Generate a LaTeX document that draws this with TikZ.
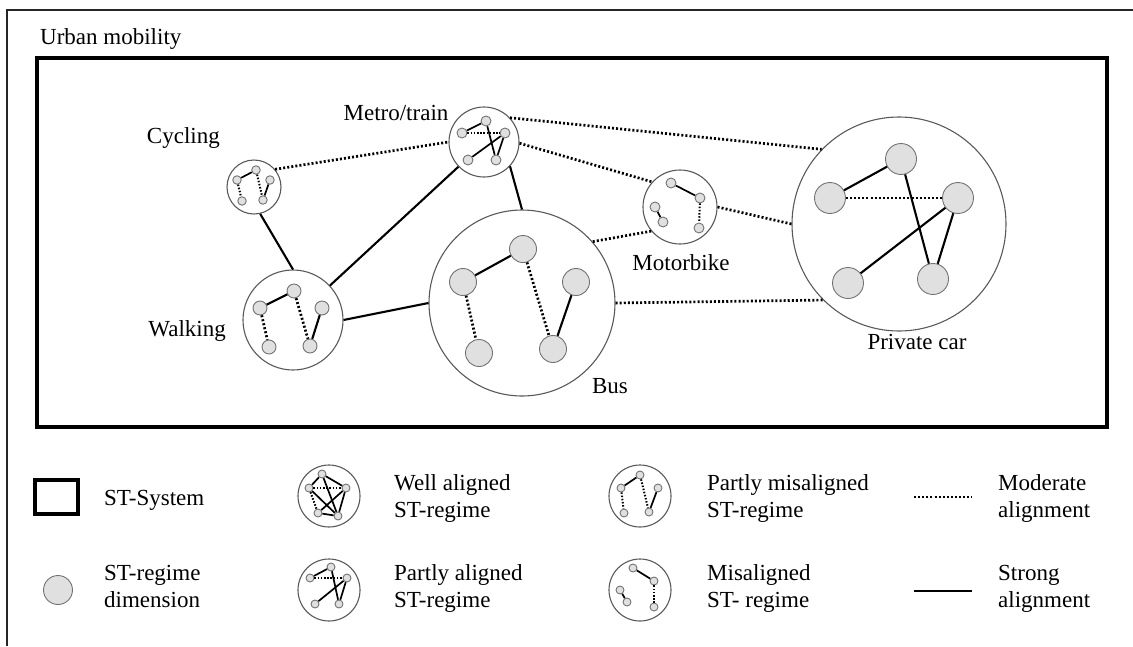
\documentclass[tikz,border=0pt]{standalone}
\usepackage{fontspec}
\setmainfont{Liberation Serif}
\begin{document}
\begin{tikzpicture}[x=1pt,y=-1pt,
  font=\fontsize{23}{27}\selectfont,
  sys/.style={circle,draw=black!65,line width=1.1pt,inner sep=0pt,minimum size=#1},
  dim/.style={circle,draw=black!55,fill=black!12,line width=0.9pt,inner sep=0pt,minimum size=#1},
  strong/.style={line width=2.1pt,black},
  moderate/.style={line width=2.7pt,black,dash pattern=on 2pt off 2.1pt},
  istrong/.style={line width=1.7pt,black},
  imoderate/.style={line width=2pt,black,dash pattern=on 1.5pt off 1.7pt},
  lbl/.style={inner sep=0pt,align=left}]
\useasboundingbox (0,0) rectangle (1133,646);
% outer frame (cropped)
\draw[line width=1.4pt,black!85] (1133,10) -- (7,10) -- (7,646);
\node[lbl,anchor=base west] (title) at (40,44) {Urban mobility};
% system box
\draw[line width=3.8pt] (37,58) rectangle (1107,427);

% systems
\node[sys=54pt]  (cyc) at (254,187) {};
\node[sys=70pt]  (met) at (484,142) {};
\node[sys=74pt]  (mot) at (680,207) {};
\node[sys=100pt] (wal) at (293,320) {};
\node[sys=186pt] (bus) at (522,303) {};
\node[sys=214pt] (car) at (899,224) {};

% labels
\node[lbl,anchor=base east] (lcyc) at (220,143) {Cycling};
\node[lbl,anchor=base] (lmet) at (396,120) {Metro/train};
\node[lbl,anchor=base] (lmot) at (681,270) {Motorbike};
\node[lbl,anchor=base east] (lwal) at (226,336) {Walking};
\node[lbl,anchor=base] (lbus) at (610,393) {Bus};
\node[lbl,anchor=base] (lcar) at (917,349) {Private car};

% inter-system connectors
\draw[moderate] (cyc.40) -- (met.180);
\draw[moderate] (met.43) -- (car.136);
\draw[moderate] (met.-2) -- (mot.138);
\draw[moderate] (mot.0) -- (car.180);
\draw[moderate] (mot.220) -- (bus.41);
\draw[moderate] (bus.0) -- (car.225);
\draw[strong] (cyc.-77) -- (wal.90);
\draw[strong] (wal.43) -- (met.224);
\draw[strong] (met.-43) -- (bus.90);
\draw[strong] (wal.0) -- (bus.180);

% cycling dims
\node[dim=8.5pt] (cy1) at (237,180) {};
\node[dim=8.5pt] (cy2) at (256,170) {};
\node[dim=8.5pt] (cy3) at (270,180) {};
\node[dim=8.5pt] (cy4) at (242,201) {};
\node[dim=8.5pt] (cy5) at (263,200) {};
\draw[istrong] (cy1) -- (cy2);
\draw[imoderate] (cy1) -- (cy4);
\draw[imoderate] (cy2) -- (cy5);
\draw[istrong] (cy3) -- (cy5);

% metro dims
\node[dim=10pt] (m1) at (462,133) {};
\node[dim=10pt] (m2) at (486,121) {};
\node[dim=10pt] (m3) at (505,133) {};
\node[dim=10pt] (m4) at (468,160) {};
\node[dim=10pt] (m5) at (496,160) {};
\draw[istrong] (m1) -- (m2);
\draw[imoderate] (m1) -- (m3);
\draw[istrong] (m2) -- (m5);
\draw[istrong] (m3) -- (m5);
\draw[istrong] (m4) -- (m3);

% motorbike dims
\node[dim=10pt] (b1) at (671,183) {};
\node[dim=10pt] (b2) at (700,198) {};
\node[dim=10pt] (b3) at (655,207) {};
\node[dim=10pt] (b4) at (663,222) {};
\node[dim=10pt] (b5) at (699,228) {};
\draw[istrong] (b1) -- (b2);
\draw[imoderate] (b2) -- (b5);
\draw[istrong] (b3) -- (b4);

% walking dims
\node[dim=14pt] (w1) at (260,308) {};
\node[dim=14pt] (w2) at (294,291) {};
\node[dim=14pt] (w3) at (322,308) {};
\node[dim=14pt] (w4) at (269,347) {};
\node[dim=14pt] (w5) at (310,346) {};
\draw[strong] (w1) -- (w2);
\draw[moderate] (w1) -- (w4);
\draw[moderate] (w2) -- (w5);
\draw[strong] (w3) -- (w5);

% bus dims
\node[dim=27pt] (u1) at (463,282) {};
\node[dim=27pt] (u2) at (523,249) {};
\node[dim=27pt] (u3) at (576,282) {};
\node[dim=27pt] (u4) at (479,353) {};
\node[dim=27pt] (u5) at (553,349) {};
\draw[strong] (u1) -- (u2);
\draw[moderate] (u1) -- (u4);
\draw[moderate] (u2) -- (u5);
\draw[strong] (u3) -- (u5);

% private car dims
\node[dim=31pt] (c1) at (901,159) {};
\node[dim=31pt] (c2) at (830,198) {};
\node[dim=31pt] (c3) at (958,198) {};
\node[dim=31pt] (c4) at (848,283) {};
\node[dim=31pt] (c5) at (933,279) {};
\draw[strong] (c2) -- (c1);
\draw[moderate] (c2) -- (c3);
\draw[strong] (c1) -- (c5);
\draw[strong] (c3) -- (c5);
\draw[strong] (c4) -- (c3);

% ---------------- legend ----------------
% ST-System
\draw[line width=3.2pt] (35,480) rectangle (78,514);
\node[lbl,anchor=base west] (tsys) at (104,505) {ST-System};
% ST-regime dimension
\node[dim=29pt] (ldim) at (58,590) {};
\node[lbl,anchor=base west] (tdim) at (104,607) {ST-regime\\dimension};

% well aligned icon
\begin{scope}[shift={(329,496)}]
\node[sys=62pt] (ia) at (0,0) {};
\node[dim=8pt] (iaA) at (-7,-22) {};
\node[dim=8pt] (iaB) at (-20,-8) {};
\node[dim=8pt] (iaC) at (17,-8) {};
\node[dim=8pt] (iaD) at (-11,17) {};
\node[dim=8pt] (iaE) at (9,20) {};
\draw[istrong] (iaA) -- (iaB);
\draw[istrong] (iaA) -- (iaC);
\draw[istrong] (iaA) -- (iaE);
\draw[imoderate] (iaB) -- (iaC);
\draw[imoderate] (iaB) -- (iaD);
\draw[istrong] (iaB) -- (iaE);
\draw[istrong] (iaC) -- (iaD);
\draw[istrong] (iaC) -- (iaE);
\draw[istrong] (iaD) -- (iaE);
\end{scope}
\node[lbl,anchor=base west] (tia) at (394,517) {Well aligned\\ST-regime};

% partly aligned icon
\begin{scope}[shift={(329,590)}]
\node[sys=62pt] (ib) at (0,0) {};
\node[dim=8pt] (ibA) at (2,-23) {};
\node[dim=8pt] (ibB) at (-19,-12) {};
\node[dim=8pt] (ibC) at (18,-12) {};
\node[dim=8pt] (ibD) at (-14,14) {};
\node[dim=8pt] (ibE) at (10,14) {};
\draw[istrong] (ibB) -- (ibA);
\draw[imoderate] (ibB) -- (ibC);
\draw[istrong] (ibA) -- (ibE);
\draw[istrong] (ibC) -- (ibE);
\draw[istrong] (ibD) -- (ibC);
\end{scope}
\node[lbl,anchor=base west] (tib) at (394,607) {Partly aligned\\ST-regime};

% partly misaligned icon
\begin{scope}[shift={(640,496)}]
\node[sys=62pt] (ic) at (0,0) {};
\node[dim=8pt] (icA) at (0,-21) {};
\node[dim=8pt] (icB) at (-19,-8) {};
\node[dim=8pt] (icC) at (18,-8) {};
\node[dim=8pt] (icD) at (-16,17) {};
\node[dim=8pt] (icE) at (9,16) {};
\draw[istrong] (icB) -- (icA);
\draw[imoderate] (icB) -- (icD);
\draw[imoderate] (icA) -- (icE);
\draw[istrong] (icC) -- (icE);
\end{scope}
\node[lbl,anchor=base west] (tic) at (707,517) {Partly misaligned\\ST-regime};

% misaligned icon
\begin{scope}[shift={(640,590)}]
\node[sys=62pt] (id) at (0,0) {};
\node[dim=8pt] (idA) at (-7,-22) {};
\node[dim=8pt] (idB) at (14,-9) {};
\node[dim=8pt] (idC) at (-20,0) {};
\node[dim=8pt] (idD) at (-13,12) {};
\node[dim=8pt] (idE) at (14,17) {};
\draw[istrong] (idA) -- (idB);
\draw[imoderate] (idB) -- (idE);
\draw[istrong] (idC) -- (idD);
\end{scope}
\node[lbl,anchor=base west] (tid) at (707,607) {Misaligned\\ST- regime};

% line legend
\coordinate (lm1) at (914,497);
\coordinate (lm2) at (972,497);
\draw[moderate] (lm1) -- (lm2);
\coordinate (ls1) at (914,591);
\coordinate (ls2) at (972,591);
\draw[line width=2.8pt] (ls1) -- (ls2);
\node[lbl,anchor=base west] (tlm) at (998,517) {Moderate\\alignment};
\node[lbl,anchor=base west] (tls) at (998,607) {Strong\\alignment};
\end{tikzpicture}
\end{document}
